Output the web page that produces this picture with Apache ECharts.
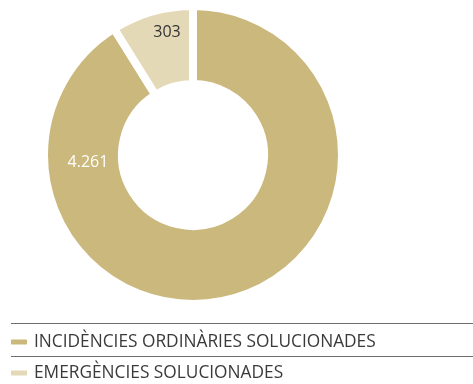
<!DOCTYPE html>
<html>
<head>
<meta charset="utf-8">
<script src="https://cdn.jsdelivr.net/npm/echarts@6/dist/echarts.min.js"></script>
<style>
  html, body { margin: 0; padding: 0; background: #fff; }
  #chart { width: 473px; height: 384px; }
</style>
</head>
<body>
<div id="chart"></div>
<script>
// Incidències resoltes: ordinàries vs. emergències
const categories = ['INCIDÈNCIES ORDINÀRIES SOLUCIONADES', 'EMERGÈNCIES SOLUCIONADES'];
const values = [4261, 303];
const colors = ['#cbb87c', '#e4d9b7'];
const labelColors = ['#ffffff', '#333333'];
// where each value label sits (pixels)
const labelSpots = [[88, 162], [167, 32]];

function fmtCa(v) {
  return String(v).replace(/\B(?=(\d{3})+(?!\d))/g, '.');
}

const chart = echarts.init(document.getElementById('chart'), null, { renderer: 'canvas' });

chart.setOption({
  animation: false,
  color: colors,
  legend: {
    orient: 'vertical',
    left: 9,
    top: 332,
    itemGap: 11,
    itemWidth: 18,
    itemHeight: 7,
    icon: 'roundRect',
    selectedMode: false,
    padding: 0,
    textStyle: { fontFamily: 'Open Sans', fontSize: 17.3, lineHeight: 20, color: '#3a3a3a', padding: [0, 0, 0, 1] },
    data: categories
  },
  graphic: [
    { type: 'line', shape: { x1: 11, y1: 323.5, x2: 473, y2: 323.5 }, style: { stroke: '#6e6e6e', lineWidth: 1 } },
    { type: 'line', shape: { x1: 11, y1: 356.5, x2: 473, y2: 356.5 }, style: { stroke: '#6e6e6e', lineWidth: 1 } }
  ],
  series: [{
    type: 'pie',
    center: [193, 155],
    radius: [71, 149],
    startAngle: 90,
    clockwise: true,
    minAngle: 32,
    avoidLabelOverlap: false,
    itemStyle: { borderColor: '#ffffff', borderWidth: 8 },
    label: {
      show: true,
      position: 'inside',
      fontFamily: 'Open Sans',
      fontSize: 16,
      formatter: p => fmtCa(p.value)
    },
    labelLine: { show: false },
    labelLayout: p => ({
      x: labelSpots[p.dataIndex][0],
      y: labelSpots[p.dataIndex][1],
      align: 'center',
      verticalAlign: 'middle'
    }),
    emphasis: { disabled: true },
    data: categories.map((name, i) => ({
      name,
      value: values[i],
      label: { color: labelColors[i] }
    }))
  }]
});
</script>
</body>
</html>
